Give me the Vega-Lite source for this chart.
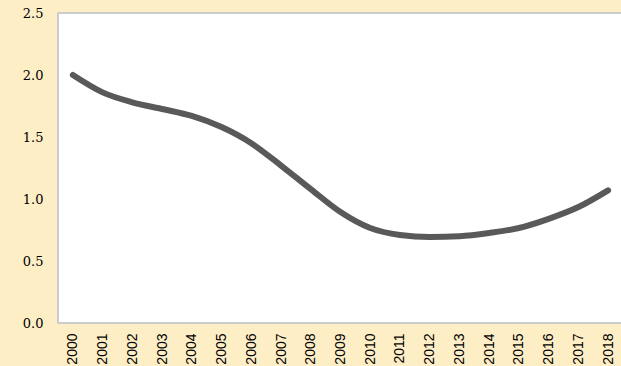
{
  "$schema": "https://vega.github.io/schema/vega-lite/v6.json",
  "autosize": "none",
  "padding": {"left": 58, "top": 13, "right": 0, "bottom": 43},
  "width": 565,
  "height": 310,
  "background": "#fdeec6",
  "config": {
    "view": {"fill": "white", "stroke": "#cccccc", "strokeWidth": 2}
  },
  "data": {
    "values": [
      {"year": "2000", "value": 2.0},
      {"year": "2001", "value": 1.86},
      {"year": "2002", "value": 1.78},
      {"year": "2003", "value": 1.726},
      {"year": "2004", "value": 1.67},
      {"year": "2005", "value": 1.58},
      {"year": "2006", "value": 1.45},
      {"year": "2007", "value": 1.27},
      {"year": "2008", "value": 1.08},
      {"year": "2009", "value": 0.895},
      {"year": "2010", "value": 0.766},
      {"year": "2011", "value": 0.71},
      {"year": "2012", "value": 0.694},
      {"year": "2013", "value": 0.70},
      {"year": "2014", "value": 0.726},
      {"year": "2015", "value": 0.766},
      {"year": "2016", "value": 0.84},
      {"year": "2017", "value": 0.935},
      {"year": "2018", "value": 1.07}
    ]
  },
  "mark": {"type": "line", "color": "#595959", "strokeWidth": 6, "strokeCap": "round", "interpolate": "monotone"},
  "encoding": {
    "x": {
      "field": "year", "type": "ordinal",
      "scale": {"type": "point", "padding": 0.5},
      "axis": {"title": null, "labelAngle": -90, "labelAlign": "right", "labelBaseline": "middle", "ticks": false, "domain": false, "labelPadding": 10, "labelFont": "Liberation Sans", "labelFontSize": 14, "labelColor": "#000000", "labelOverlap": false}
    },
    "y": {
      "field": "value", "type": "quantitative",
      "scale": {"domain": [0, 2.5], "nice": false},
      "axis": {"title": null, "values": [0, 0.5, 1, 1.5, 2, 2.5], "format": ".1f", "grid": false, "ticks": false, "domain": false, "labelPadding": 15, "labelFont": "DejaVu Serif", "labelFontSize": 13, "labelColor": "#000000"}
    }
  }
}
